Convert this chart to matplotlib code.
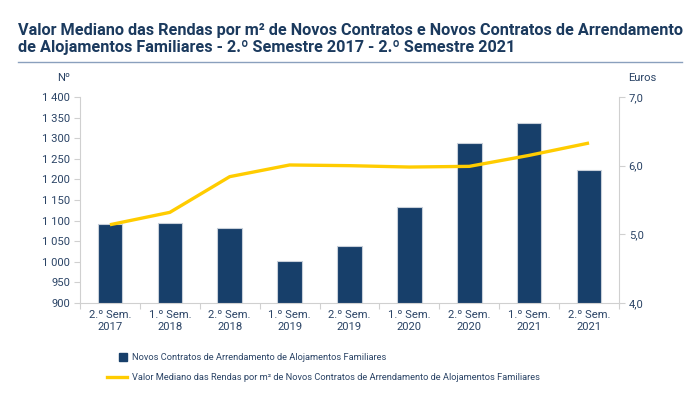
import matplotlib
matplotlib.use("Agg")
import matplotlib.pyplot as plt
from matplotlib.patches import Rectangle
from matplotlib.lines import Line2D
import numpy as np

categories = ["2.º Sem.\n2017", "1.º Sem.\n2018", "2.º Sem.\n2018", "1.º Sem.\n2019",
              "2.º Sem.\n2019", "1.º Sem.\n2020", "2.º Sem.\n2020", "1.º Sem.\n2021",
              "2.º Sem.\n2021"]
contratos = [1091, 1095, 1081, 1001, 1039, 1133, 1288, 1337, 1222]
mediana = [5.14, 5.32, 5.84, 6.01, 6.00, 5.98, 5.99, 6.15, 6.33]
left_ticks = [900, 950, 1000, 1050, 1100, 1150, 1200, 1250, 1300, 1350, 1400]
left_labels = ["900", "950", "1 000", "1 050", "1 100", "1 150", "1 200", "1 250",
               "1 300", "1 350", "1 400"]
right_ticks = [4.0, 5.0, 6.0, 7.0]
right_labels = ["4,0", "5,0", "6,0", "7,0"]
title = ("Valor Mediano das Rendas por m² de Novos Contratos e Novos Contratos de Arrendamento\n"
         "de Alojamentos Familiares - 2.º Semestre 2017 - 2.º Semestre 2021")
legend_bar = "Novos Contratos de Arrendamento de Alojamentos Familiares"
legend_line = "Valor Mediano das Rendas por m² de Novos Contratos de Arrendamento de Alojamentos Familiares"

plt.rcParams['font.family'] = ['Roboto', 'DejaVu Sans']

NAVY = "#173f6a"
TXT = "#2b4466"
TITLE = "#1b3a5e"
GOLD = "#ffcc00"
GRID = "#d0d0d0"

W, H = 699, 405
fig = plt.figure(figsize=(W / 100, H / 100), dpi=100)
ax = fig.add_axes([80 / W, 1 - 303 / H, (619 - 80) / W, (303 - 97) / H])
ax2 = ax.twinx()

x = np.arange(len(categories))
ax.bar(x, contratos, width=0.41, color=NAVY, edgecolor="#c8d0da", linewidth=0.8, zorder=2)
ax.set_ylim(900, 1400)
ax.set_xlim(-0.5, len(categories) - 0.5)
ax.set_yticks(left_ticks)
ax.set_yticklabels(left_labels)
ax.set_xticks(x)
ax.set_xticklabels(categories)
ax.set_xticks(np.arange(-0.5, len(categories), 1.0), minor=True)
ax.tick_params(axis='x', which='major', length=0, pad=5, labelsize=8.1, colors=TXT)
ax.tick_params(axis='x', which='minor', length=4, color=GRID, width=0.8)
ax.tick_params(axis='y', length=4, color=GRID, width=0.8, labelsize=8.1, colors=TXT, pad=3)
for lbl in ax.get_xticklabels():
    lbl.set_linespacing(1.25)

ax2.plot(x, mediana, color=GOLD, linewidth=2.4, solid_capstyle='butt', zorder=3)
ax2.set_ylim(4.0, 7.0)
ax2.set_yticks(right_ticks)
ax2.set_yticklabels(right_labels)
ax2.tick_params(axis='y', length=4, color=GRID, width=0.8, labelsize=8.1, colors=TXT, pad=3)

for a in (ax, ax2):
    a.spines["top"].set_visible(False)
    for s in ("left", "right", "bottom"):
        a.spines[s].set_color(GRID)
        a.spines[s].set_linewidth(0.8)
ax.spines["right"].set_visible(False)
ax2.spines["left"].set_visible(False)
ax2.spines["bottom"].set_visible(False)

# title
fig.text(18 / W, 1 - 22.5 / H, title, ha="left", va="top", fontsize=11.7, fontweight="bold",
         color=TITLE, linespacing=1.2)
fig.add_artist(Line2D([18 / W, 682 / W], [1 - 62 / H, 1 - 62 / H], color="#8aa0bd", linewidth=1.0))

# axis unit labels
fig.text(70 / W, 1 - 78 / H, "Nº", ha="right", va="center", fontsize=8.1, color=TXT)
fig.text(628 / W, 1 - 78 / H, "Euros", ha="left", va="center", fontsize=8.1, color=TXT)

# legend
fig.add_artist(Rectangle((119 / W, 1 - 361 / H), 8 / W, 8 / H, color=NAVY, transform=fig.transFigure))
fig.text(132 / W, 1 - 357 / H, legend_bar, ha="left", va="center", fontsize=6.65, color=TXT)
fig.add_artist(Line2D([107 / W, 127 / W], [1 - 377 / H, 1 - 377 / H], color=GOLD, linewidth=2.4))
fig.text(132 / W, 1 - 377 / H, legend_line, ha="left", va="center", fontsize=6.65, color=TXT)

fig.savefig("out.png", dpi=100)
